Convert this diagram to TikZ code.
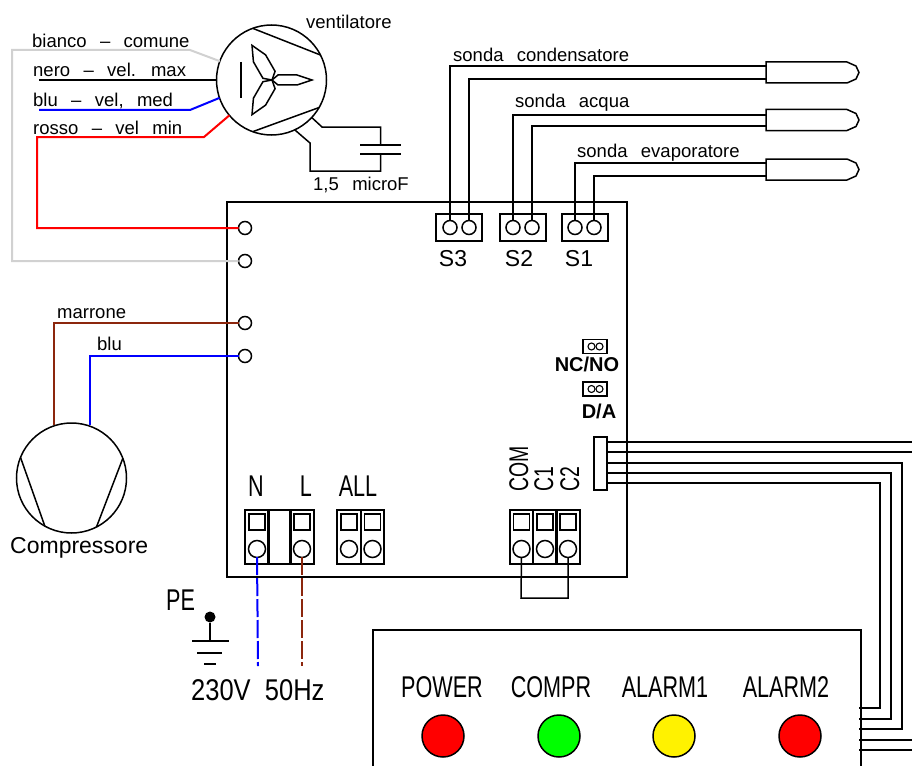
\documentclass[tikz,border=0pt]{standalone}
\usepackage{fontspec}
\setmainfont[WordSpace=2.6]{Liberation Sans}
\newfontfamily\cadnarrow[FakeStretch=0.72]{Liberation Sans}
\newfontfamily\cadmid[FakeStretch=0.85,WordSpace=2]{Liberation Sans}
\usetikzlibrary{calc}
\usetikzlibrary{positioning}
\definecolor{wbrown}{rgb}{0.55,0.15,0.05}
\definecolor{wgrey}{rgb}{0.82,0.82,0.82}
\tikzset{
 	line/.style={line width=1.5pt},
 	colorline/.style={line width=2pt},
 	smalltxt/.style={font=\fontsize{18.5}{20}\selectfont,inner sep=0pt,anchor=base west},
 	bigtxt/.style={font=\cadnarrow\fontsize{30}{32}\selectfont,inner sep=0pt,anchor=base west},
 	midtxt/.style={font=\cadmid\fontsize{30}{32}\selectfont,inner sep=0pt,anchor=base west},
 	sensortxt/.style={font=\fontsize{23}{25}\selectfont,inner sep=0pt},
 	jumpertxt/.style={font=\bfseries\fontsize{20}{22}\selectfont,inner sep=0pt},
 	motor/.style={draw,circle,line width=1.5pt,minimum size=110pt,inner sep=0pt,outer sep=0pt},
 	term/.style={draw,circle,line width=1.5pt,fill=white,minimum size=13pt,inner sep=0pt,outer sep=0pt},
 	jumperpin/.style={draw,circle,line width=1.1pt,minimum size=7pt,inner sep=0pt,outer sep=0pt},
 	screw/.style={draw,circle,line width=1.5pt,fill=white,minimum size=17pt,inner sep=0pt,outer sep=0pt},
 	cellbox/.style={draw,line width=1.9pt,minimum width=23.5pt,minimum height=54pt,inner sep=0pt,outer sep=0pt},
 	squarebox/.style={draw,line width=1.5pt,minimum width=16pt,minimum height=16pt,inner sep=0pt,outer sep=0pt},
 	sensorbox/.style={draw,line width=1.5pt,minimum width=46pt,minimum height=27pt,inner sep=0pt,outer sep=0pt},
 	jumperbox/.style={draw,line width=1.6pt,minimum width=24pt,minimum height=14pt,inner sep=0pt,outer sep=0pt},
 	lamp/.style={draw,circle,line width=1.5pt,minimum size=42pt,inner sep=0pt,outer sep=0pt},
}
\begin{document}
\begin{tikzpicture}[x=1pt,y=-1pt]
 	\useasboundingbox (0,0) rectangle (912,765);
 	\clip (0,0) rectangle (912,765);
 	% scheda
 	\draw[line] (227,202) rectangle (627,577);
 	% ventilatore
 	\node[motor] (FAN) at (271.5,80) {};
 	\draw[line] (FAN.110) -- (FAN.27);
 	\draw[line] (FAN.250) -- (FAN.-30);
 	\draw[line] (241,62) -- (241,98);
 	\foreach \a/\w in {0/5,120/7,240/7} {
 		\draw[line,shift={(272,80)},rotate=\a] (0,0) -- (6,-\w) -- (25,-\w) -- (40,0) -- (25,\w) -- (6,\w) -- cycle;
 	}
 	\node[smalltxt] (VENT) at (306,29) {ventilatore};
 	\node[smalltxt] (BIA) at (32,48) {bianco – comune};
 	\node[smalltxt] (NER) at (33,76.5) {nero – vel. max};
 	\node[smalltxt] (BLU) at (33,106.5) {blu – vel, med};
 	\node[smalltxt] (ROS) at (33,134) {rosso – vel min};
 	% morsetti sinistra
 	\node[term] (T1) at (245,228) {};
 	\node[term] (T2) at (245,261) {};
 	\node[term] (T3) at (245,323) {};
 	\node[term] (T4) at (245,356) {};
 	\coordinate (NERA) at (39,80);
 	\coordinate (BLUA) at (39,110);
 	\draw[colorline,wgrey] (FAN.160) -- (190,50) -- (12,50) -- (12,261) -- (T2.west);
 	\draw[colorline,black] (NERA) -- (FAN.west);
 	\draw[colorline,blue] (BLUA) -- (190,110) -- (FAN.199);
 	\draw[colorline,red] (FAN.220) -- (204,137) -- (37,137) -- (37,228) -- (T1.west);
 	% condensatore
 	\node[inner sep=0pt] (CAPA) at (380.5,145) {};
 	\node[inner sep=0pt] (CAPB) at (380.5,154) {};
 	\draw[line] (FAN.-43) -- (322,127) -- (380.5,127) -- (CAPA);
 	\draw[line] (FAN.-65) -- (310,143) -- (310,171) -- (380.5,171) -- (CAPB);
 	\draw[line] (360,145) -- (401,145);
 	\draw[line] (360,154) -- (401,154);
 	\node[smalltxt] (CAPT) at (313,190.5) {1,5 microF};
 	% sonde
 	\foreach \n/\xb/\xa/\xc/\ya/\yb/\yp in {3/459/450/469/66/79/72.5,2/523/513/532/115/126/120,1/585/575/594/163/176/169.5} {
 		\node[sensorbox] (S\n) at (\xb,227.5) {};
 		\node[term,minimum size=14pt] (S\n a) at (\xa,227.5) {};
 		\node[term,minimum size=14pt] (S\n b) at (\xc,227.5) {};
 		\draw[line] (766,\yp-10.5) -- (847,\yp-10.5) -- (856,\yp-6.5) -- (859,\yp) -- (856,\yp+6.5) -- (847,\yp+10.5) -- (766,\yp+10.5) -- cycle;
 		\coordinate (P\n a) at (766,\ya);
 		\coordinate (P\n b) at (766,\yb);
 		\draw[line] (S\n a.north) |- (P\n a);
 		\draw[line] (S\n b.north) |- (P\n b);
 	}
 	\node[smalltxt] (SCON) at (453,62) {sonda condensatore};
 	\node[smalltxt] (SACQ) at (515,108) {sonda acqua};
 	\node[smalltxt] (SEVA) at (577,157) {sonda evaporatore};
 	\node[sensortxt,below=9pt of S3,xshift=-6pt] (S3T) {S3};
 	\node[sensortxt,below=9pt of S2,xshift=-4pt] (S2T) {S2};
 	\node[sensortxt,below=9pt of S1,xshift=-6pt] (S1T) {S1};
 	% compressore
 	\node[motor] (CMP) at (71.5,478) {};
 	\draw[line] (CMP.158) -- (CMP.241);
 	\draw[line] (CMP.21) -- (CMP.297);
 	\coordinate (CMPA) at (54,425);
 	\coordinate (CMPB) at (90,425);
 	\draw[colorline,wbrown] (CMPA) |- (T3.west);
 	\draw[colorline,blue] (CMPB) |- (T4.west);
 	\node[smalltxt] (MAR) at (57,318) {marrone};
 	\node[smalltxt] (BLC) at (97,350.5) {blu};
 	\node[smalltxt,font=\fontsize{23}{25}\selectfont] (CMPT) at (10,553) {Compressore};
 	% jumper
 	\foreach \n/\y in {A/346.5,B/389} {
 		\node[jumperbox] (J\n) at (595,\y) {};
 		\node[jumperpin] (J\n a) at (591.5,\y) {};
 		\node[jumperpin] (J\n b) at (599.5,\y) {};
 	}
 	\node[jumpertxt] (JAT) at (587,364) {NC/NO};
 	\node[jumpertxt] (JBT) at (599,411) {D/A};
 	% morsettiere
 	\foreach \n/\x in {N/257,L/302,U/349,V/372.5,X/521.5,Y/545,Z/568} {
 		\node[cellbox] (C\n) at (\x,537) {};
 		\node[squarebox] (Q\n) at (\x,522) {};
 		\node[screw] (K\n) at (\x,549) {};
 	}
 	\node[cellbox] (CM) at (279.5,537) {};
 	\node[bigtxt,anchor=base] (NT) at (256,496) {N};
 	\node[bigtxt,anchor=base] (LT) at (306,496) {L};
 	\node[bigtxt,anchor=base] (ALLT) at (358,496) {ALL};
 	\node[bigtxt,rotate=90,font=\cadnarrow\fontsize{27}{29}\selectfont] (COMT) at (528,492) {COM};
 	\node[bigtxt,rotate=90,font=\cadnarrow\fontsize{27}{29}\selectfont] (C1T) at (553,492) {C1};
 	\node[bigtxt,rotate=90,font=\cadnarrow\fontsize{27}{29}\selectfont] (C2T) at (579,492) {C2};
 	\coordinate (JMP) at (521,598);
 	\draw[line] (KX.south) -- (JMP) -| (KZ.south);
 	% alimentazione
 	\coordinate (NEND) at (258,666);
 	\coordinate (LEND) at (302,666);
 	\draw[colorline,blue,dash pattern=on 18pt off 3pt] (KN.center) ++(0,8) -- (NEND);
 	\draw[colorline,wbrown,dash pattern=on 18pt off 3pt] (KL.center) ++(0,8) -- (LEND);
 	\node[bigtxt] (PET) at (166,610.5) {PE};
 	\node[midtxt] (VT) at (191,700.5) {230V 50Hz};
 	\node[circle,fill=black,minimum size=11pt,inner sep=0pt] (PE) at (210,617) {};
 	\coordinate (GND) at (210,641);
 	\draw[line] (PE) -- (GND);
 	\draw[line] (192,641) -- (229,641);
 	\draw[line] (197,653) -- (222,653);
 	\draw[line] (204,664) -- (216,664);
 	% pannello
 	\draw[line] (373,770) -- (373,630) -- (861,630) -- (861,770);
 	\foreach \n/\t/\x in {A/POWER/442,B/COMPR/551,C/ALARM1/665,D/ALARM2/786} {
 		\node[bigtxt,anchor=base] (LT\n) at (\x,697) {\t};
 	}
 	\foreach \n/\x/\c in {A/443/red,B/559/green,C/674/yellow,D/800/red} {
 		\node[lamp,fill=\c] (LD\n) at (\x,736) {};
 	}
 	% connettore e cavi
 	\node[draw,line width=1.5pt,fill=white,minimum width=13pt,minimum height=53pt,inner sep=0pt,outer sep=0pt] (CONN) at (600.5,463.5) {};
 	\coordinate (EA) at (912,442);
 	\coordinate (EB) at (912,452);
 	\coordinate (ED) at (912,740);
 	\coordinate (EE) at (912,750);
 	\coordinate (CC) at (607,463);
 	\coordinate (CD) at (607,473);
 	\coordinate (CE) at (607,483);
 	\draw[line] (607,442) -- (EA);
 	\draw[line] (607,452) -- (EB);
 	\draw[line] (CC) -- (902,463) -- (902,729) -- (859,729);
 	\draw[line] (CD) -- (891,473) -- (891,719) -- (859,719);
 	\draw[line] (CE) -- (880,483) -- (880,708) -- (859,708);
 	\draw[line] (859,740) -- (ED);
 	\draw[line] (859,750) -- (EE);
\end{tikzpicture}
\end{document}
